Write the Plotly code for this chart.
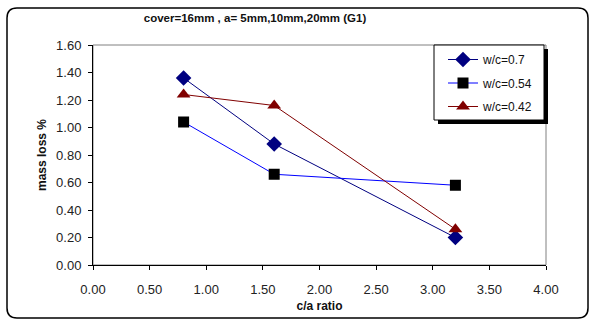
import plotly.graph_objects as go

x_vals = [0.8, 1.6, 3.2]
wc07 = [1.36, 0.88, 0.20]
wc054 = [1.04, 0.66, 0.58]
wc042 = [1.24, 1.16, 0.26]
names = ["w/c=0.7", "w/c=0.54", "w/c=0.42"]

W, H = 592, 325
L, R, T, B = 93, 46, 45, 60
PW, PH = W - L - R, H - T - B

def px(x):
    return (x - L) / PW

def py(y):
    return (H - B - y) / PH

fig = go.Figure()
fig.add_trace(go.Scatter(x=x_vals, y=wc07, name=names[0], mode="lines+markers", legendgroup="a",
                         line=dict(color="#000080", width=1),
                         marker=dict(symbol="diamond", size=12, color="#000080")))
fig.add_trace(go.Scatter(x=x_vals, y=wc054, name=names[1], mode="lines+markers", legendgroup="b",
                         line=dict(color="#0000FF", width=1),
                         marker=dict(symbol="square", size=11, color="#000000")))
fig.add_trace(go.Scatter(x=x_vals, y=wc042, name=names[2], mode="lines+markers", legendgroup="c",
                         line=dict(color="#800000", width=1),
                         marker=dict(symbol="triangle-up", size=12, color="#800000")))

# outer rounded border
x0, x1, y0, y1, r = 7, 588, 8, 318, 10
path = (f"M {px(x0+r)} {py(y0)} L {px(x1-r)} {py(y0)} Q {px(x1)} {py(y0)} {px(x1)} {py(y0+r)} "
        f"L {px(x1)} {py(y1-r)} Q {px(x1)} {py(y1)} {px(x1-r)} {py(y1)} "
        f"L {px(x0+r)} {py(y1)} Q {px(x0)} {py(y1)} {px(x0)} {py(y1-r)} "
        f"L {px(x0)} {py(y0+r)} Q {px(x0)} {py(y0)} {px(x0+r)} {py(y0)} Z")
shapes = [
    dict(type="path", xref="paper", yref="paper", path=path,
         line=dict(color="black", width=1.5), layer="below"),
    dict(type="rect", xref="paper", yref="paper", x0=0, x1=1, y0=0, y1=1,
         line=dict(color="#808080", width=1), layer="below"),
    # legend shadow and box
    dict(type="rect", xref="paper", yref="paper", x0=px(438), x1=px(548), y0=py(124), y1=py(49),
         fillcolor="black", line=dict(width=0), layer="above"),
    dict(type="rect", xref="paper", yref="paper", x0=px(434), x1=px(544), y0=py(120), y1=py(45),
         fillcolor="white", line=dict(color="black", width=1), layer="above"),
]

fig.update_layout(
    width=W, height=H,
    margin=dict(l=L, r=R, t=T, b=B),
    paper_bgcolor="white", plot_bgcolor="white",
    font=dict(family="Arial, Liberation Sans", size=13, color="#222"),
    title=dict(text="<b>cover=16mm , a= 5mm,10mm,20mm (G1)</b>", x=255 / W, xanchor="center",
               y=1 - 18 / H, yanchor="middle", font=dict(size=11.5, color="#111")),
    xaxis=dict(range=[0, 4], dtick=0.5, tickformat=".2f", showgrid=False, zeroline=False,
               showline=True, linecolor="black", linewidth=1, ticks="outside", ticklen=4,
               tickcolor="black", ticklabelstandoff=8,
               title=dict(text="<b>c/a ratio</b>", font=dict(size=12, color="#111"), standoff=6)),
    yaxis=dict(range=[0, 1.6], dtick=0.2, tickformat=".2f", showgrid=False, zeroline=False,
               showline=True, linecolor="black", linewidth=1, ticks="outside", ticklen=4,
               tickcolor="black", ticklabelstandoff=4,
               title=dict(text="<b>mass loss %</b>", font=dict(size=12, color="#111"), standoff=6)),
    legend=dict(x=px(443), y=1, xanchor="left", yanchor="top", bgcolor="rgba(0,0,0,0)",
                borderwidth=0, font=dict(size=12, color="#111"),
                itemwidth=30, tracegroupgap=4.5),
    shapes=shapes,
    showlegend=True,
)

fig.write_html("out.html")
